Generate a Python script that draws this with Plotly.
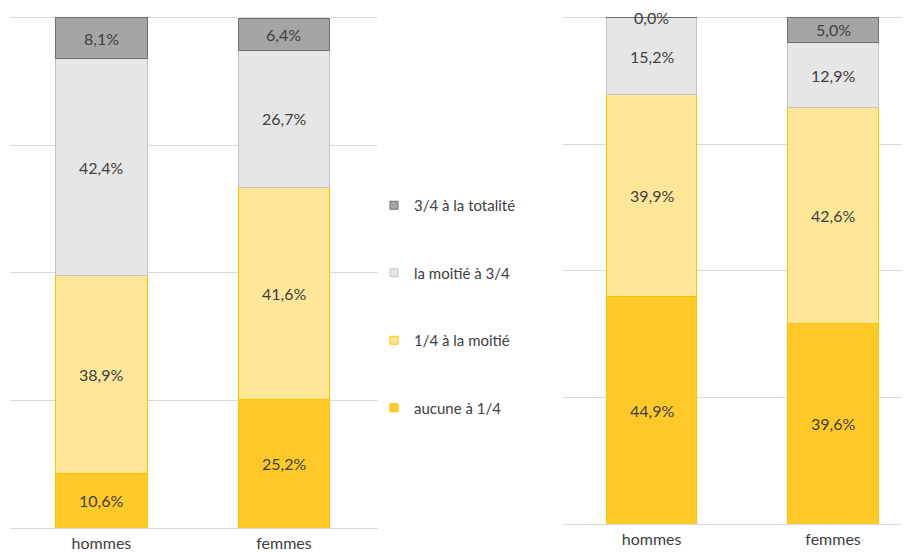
import plotly.graph_objects as go

categories = ['hommes', 'femmes']
series_names = ['aucune à 1/4', '1/4 à la moitié', 'la moitié à 3/4', '3/4 à la totalité']

# left panel, percentages per series (hommes, femmes)
left_aucune = [10.6, 25.2]
left_quart_moitie = [38.9, 41.6]
left_moitie_3q = [42.4, 26.7]
left_3q_total = [8.1, 6.4]

# right panel
right_aucune = [44.9, 39.6]
right_quart_moitie = [39.9, 42.6]
right_moitie_3q = [15.2, 12.9]
right_3q_total = [0.0, 5.0]

fills = ['#FFC929', '#FFE699', '#E7E6E6', '#A5A5A5']
edges = ['#FFC000', '#FFC000', '#C4C4C4', '#6E6E6E']

# page has an 8px body margin, so the figure is a bit smaller than the window
W, H = 902, 545
font = 'Lato'
txt_color = '#404040'

fig = go.Figure()


def fmt(v):
    return f'{v:.1f}%'.replace('.', ',')


def add_panel(series, xa, ya):
    base = [0.0] * len(categories)
    for i, vals in enumerate(series):
        fig.add_trace(go.Bar(
            x=categories, y=vals, name=series_names[i],
            marker=dict(color=fills[i], line=dict(color=edges[i], width=1)),
            width=0.5, xaxis=xa, yaxis=ya, showlegend=False,
        ))
        for j, v in enumerate(vals):
            fig.add_annotation(
                x=categories[j], y=base[j] + v / 2, text=fmt(v),
                xref=xa, yref=ya, showarrow=False,
                font=dict(family=font, size=16, color=txt_color),
            )
            base[j] += v


add_panel([left_aucune, left_quart_moitie, left_moitie_3q, left_3q_total], 'x', 'y')
add_panel([right_aucune, right_quart_moitie, right_moitie_3q, right_3q_total], 'x2', 'y2')

# legend entries: small square markers, top entry = last series
for i, name in enumerate(series_names):
    fig.add_trace(go.Scatter(
        x=[None], y=[None], mode='markers', name=name,
        marker=dict(symbol='square', size=8, color=fills[i],
                    line=dict(color=edges[i], width=1)),
        legendgroup=name, legendrank=100 - i,
    ))

grid = '#D9D9D9'
yax = dict(range=[0, 100.3], tickvals=[0, 25, 50, 75, 100], showticklabels=False,
           showgrid=True, gridcolor=grid, gridwidth=1, zeroline=False, fixedrange=True)
xax = dict(showline=True, linecolor=grid, linewidth=1, ticks='', showgrid=False,
           ticklabelstandoff=1, automargin=False,
           tickfont=dict(family=font, size=16, color=txt_color))

fig.update_layout(
    width=W, height=H,
    margin=dict(l=0, r=0, t=0, b=0),
    barmode='stack',
    plot_bgcolor='white', paper_bgcolor='white',
    xaxis=dict(xax, domain=[2 / W, 370 / W], range=[-0.501, 1.515], anchor='y'),
    yaxis=dict(yax, domain=[(H - 520) / H, (H - 8) / H], anchor='x'),
    xaxis2=dict(xax, domain=[555 / W, 1.0], range=[-0.488, 1.424], anchor='y2'),
    yaxis2=dict(yax, domain=[(H - 516) / H, (H - 8) / H], anchor='x2'),
    legend=dict(
        x=366 / W, y=(H - 181) / H, xanchor='left', yanchor='top',
        tracegroupgap=45, itemwidth=30,
        font=dict(family=font, size=15, color=txt_color),
        bgcolor='rgba(0,0,0,0)',
    ),
    showlegend=True,
)

fig.write_html("out.html")
